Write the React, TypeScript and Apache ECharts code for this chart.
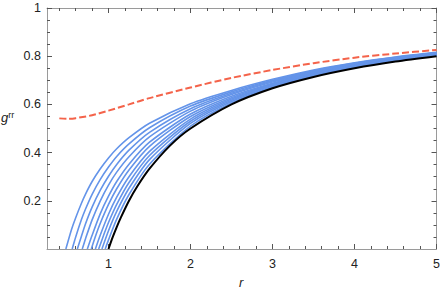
import React, { useEffect, useRef } from "react";
import * as echarts from "echarts";

// r sample points and read-off values for each curve
const blueR: number[][] = [
  [0.48, 0.55, 0.6, 0.67, 0.72, 0.8, 0.9, 1.0, 1.1, 1.25, 1.5, 2, 2.5, 3, 3.5, 4, 4.5, 5],
  [0.557, 0.6, 0.67, 0.72, 0.8, 0.9, 1.0, 1.1, 1.25, 1.5, 2, 2.5, 3, 3.5, 4, 4.5, 5],
  [0.62, 0.67, 0.72, 0.8, 0.9, 1.0, 1.1, 1.25, 1.5, 2, 2.5, 3, 3.5, 4, 4.5, 5],
  [0.68, 0.72, 0.8, 0.9, 1.0, 1.1, 1.25, 1.5, 2, 2.5, 3, 3.5, 4, 4.5, 5],
  [0.742, 0.8, 0.9, 1.0, 1.1, 1.25, 1.5, 2, 2.5, 3, 3.5, 4, 4.5, 5],
  [0.79, 0.84, 0.9, 1.0, 1.1, 1.25, 1.5, 2, 2.5, 3, 3.5, 4, 4.5, 5],
  [0.84, 0.9, 1.0, 1.1, 1.25, 1.5, 2, 2.5, 3, 3.5, 4, 4.5, 5],
  [0.88, 0.95, 1.0, 1.1, 1.25, 1.5, 2, 2.5, 3, 3.5, 4, 4.5, 5],
  [0.92, 1.0, 1.1, 1.25, 1.5, 2, 2.5, 3, 3.5, 4, 4.5, 5],
  [0.96, 1.0, 1.1, 1.25, 1.5, 2, 2.5, 3, 3.5, 4, 4.5, 5],
];
const blueV: number[][] = [
  [0, 0.082, 0.13, 0.19, 0.228, 0.28, 0.333, 0.378, 0.416, 0.462, 0.522, 0.603, 0.658, 0.704, 0.743, 0.773, 0.797, 0.816],
  [0, 0.05, 0.122, 0.166, 0.227, 0.289, 0.34, 0.384, 0.436, 0.503, 0.593, 0.652, 0.7, 0.74, 0.771, 0.795, 0.814],
  [0, 0.053, 0.105, 0.174, 0.244, 0.302, 0.351, 0.41, 0.484, 0.582, 0.646, 0.697, 0.737, 0.768, 0.793, 0.813],
  [0, 0.043, 0.121, 0.2, 0.265, 0.319, 0.383, 0.465, 0.572, 0.641, 0.693, 0.734, 0.766, 0.791, 0.811],
  [0, 0.057, 0.147, 0.219, 0.28, 0.352, 0.443, 0.56, 0.634, 0.688, 0.731, 0.763, 0.789, 0.809],
  [0, 0.052, 0.107, 0.185, 0.25, 0.328, 0.426, 0.55, 0.628, 0.685, 0.728, 0.761, 0.787, 0.808],
  [0, 0.058, 0.144, 0.215, 0.3, 0.405, 0.539, 0.622, 0.681, 0.725, 0.759, 0.785, 0.806],
  [0, 0.066, 0.11, 0.185, 0.276, 0.388, 0.53, 0.617, 0.678, 0.722, 0.757, 0.784, 0.805],
  [0, 0.076, 0.156, 0.252, 0.371, 0.521, 0.612, 0.674, 0.72, 0.755, 0.782, 0.803],
  [0, 0.038, 0.124, 0.226, 0.352, 0.51, 0.606, 0.671, 0.717, 0.752, 0.78, 0.802],
];
const blackR = [1, 1.05, 1.1, 1.15, 1.25, 1.35, 1.5, 1.75, 2, 2.5, 3, 3.5, 4, 4.5, 5];
const blackV = [0, 0.048, 0.091, 0.13, 0.2, 0.259, 0.333, 0.429, 0.5, 0.6, 0.667, 0.714, 0.75, 0.778, 0.8];
const redR = [0.4, 0.5, 0.6, 0.8, 1, 1.25, 1.5, 2, 2.5, 3, 3.5, 4, 4.5, 5];
const redV = [0.542, 0.54, 0.543, 0.555, 0.574, 0.6, 0.626, 0.67, 0.71, 0.743, 0.771, 0.794, 0.811, 0.826];

const xMajor = [1, 2, 3, 4, 5];
const xMinor = [0.4, 0.6, 0.8, 1.2, 1.4, 1.6, 1.8, 2.2, 2.4, 2.6, 2.8, 3.2, 3.4, 3.6, 3.8, 4.2, 4.4, 4.6, 4.8];
const yMajor = [0.2, 0.4, 0.6, 0.8, 1];
const yMinor = [0.05, 0.1, 0.15, 0.25, 0.3, 0.35, 0.45, 0.5, 0.55, 0.65, 0.7, 0.75, 0.85, 0.9, 0.95];

const AX = "#9a9a9a";
const LBL = "#222";
const FONT = "Liberation Sans, Arial, sans-serif";

function mkX(position: string, ticks: number[], len: number, showLine: boolean, labels: boolean) {
  return {
    type: "value",
    min: 0.25,
    max: 5,
    position,
    axisLine: { show: showLine, onZero: false, lineStyle: { color: AX, width: 1 } },
    axisTick: { show: true, inside: true, length: len, customValues: ticks, lineStyle: { color: "#555", width: 1 } },
    axisLabel: labels
      ? { show: true, customValues: ticks, color: LBL, fontSize: 12.5, fontFamily: FONT, margin: 8 }
      : { show: false },
    splitLine: { show: false },
  };
}
function mkY(position: string, ticks: number[], len: number, showLine: boolean, labels: boolean) {
  return {
    type: "value",
    min: 0,
    max: 1,
    position,
    axisLine: { show: showLine, onZero: false, lineStyle: { color: AX, width: 1 } },
    axisTick: { show: true, inside: true, length: len, customValues: ticks, lineStyle: { color: "#555", width: 1 } },
    axisLabel: labels
      ? {
          show: true,
          customValues: ticks,
          color: LBL,
          fontSize: 12.5,
          fontFamily: FONT,
          margin: 6,
          formatter: (v: number) => (v === 1 ? "1" : v.toFixed(1)),
        }
      : { show: false },
    splitLine: { show: false },
  };
}

export default function App() {
  const ref = useRef<HTMLDivElement>(null);
  useEffect(() => {
    document.body.style.margin = "0";
    if (!ref.current) return;
    const chart = echarts.init(ref.current, undefined, { renderer: "svg" });
    const series: any[] = [];
    blueR.forEach((rs, i) => {
      series.push({
        type: "line",
        data: rs.map((r, j) => [r, blueV[i][j]]),
        smooth: 0.25,
        showSymbol: false,
        lineStyle: { color: "#6494e9", width: 1.6 },
        z: 2,
      });
    });
    series.push({
      type: "line",
      data: blackR.map((r, j) => [r, blackV[j]]),
      smooth: 0.25,
      showSymbol: false,
      lineStyle: { color: "#000", width: 2 },
      z: 3,
    });
    series.push({
      type: "line",
      data: redR.map((r, j) => [r, redV[j]]),
      smooth: 0.25,
      showSymbol: false,
      lineStyle: { color: "#f4634a", width: 2, type: [7, 3] },
      z: 4,
    });
    chart.setOption({
      animation: false,
      grid: { left: 47, right: 5, top: 8, bottom: 45, containLabel: false },
      xAxis: [
        mkX("bottom", xMajor, 5, true, true),
        mkX("bottom", xMinor, 3, false, false),
        mkX("top", xMajor, 5, true, false),
        mkX("top", xMinor, 3, false, false),
      ],
      yAxis: [
        mkY("left", yMajor, 5, true, true),
        mkY("left", yMinor, 3, false, false),
        mkY("right", yMajor, 5, true, false),
        mkY("right", yMinor, 3, false, false),
      ],
      series,
      graphic: [
        {
          type: "text",
          left: 1,
          top: 110,
          style: {
            text: "{g|g}{s|rr}",
            rich: {
              g: { fontSize: 13, fontStyle: "italic", fontFamily: FONT, fill: LBL },
              s: { fontSize: 9, fontFamily: FONT, fill: LBL, verticalAlign: "top", padding: [0, 0, 6, 0] },
            },
          },
        },
        {
          type: "text",
          left: 239,
          top: 276,
          style: { text: "r", fontSize: 13, fontStyle: "italic", fontFamily: FONT, fill: LBL },
        },
      ],
    });
    return () => chart.dispose();
  }, []);
  return <div ref={ref} style={{ width: 443, height: 294 }} />;
}
